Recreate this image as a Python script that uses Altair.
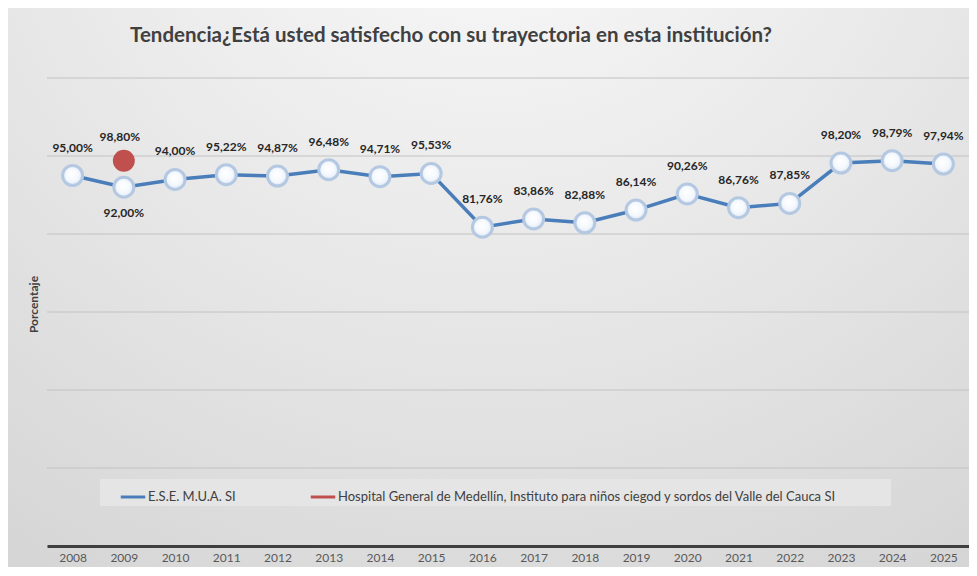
import altair as alt
import pandas as pd

years = [str(y) for y in range(2008, 2026)]
ese_values = [95.00, 92.00, 94.00, 95.22, 94.87, 96.48, 94.71, 95.53, 81.76,
              83.86, 82.88, 86.14, 90.26, 86.76, 87.85, 98.20, 98.79, 97.94]
hosp_years = ["2009"]
hosp_values = [98.80]
series_names = ["E.S.E. M.U.A. SI",
                "Hospital General de Medellín, Instituto para niños ciegod y sordos del Valle del Cauca SI"]
title_text = "Tendencia¿Está usted satisfecho con su trayectoria en esta institución?"
y_title = "Porcentaje"
y_grid = [20, 40, 60, 80, 100, 120]
below_years = ["2009"]


def fmt(v):
    return f"{v:.2f}%".replace(".", ",")


ese = pd.DataFrame({"year": years, "value": ese_values, "series": series_names[0],
                    "label": [fmt(v) for v in ese_values]})
hosp = pd.DataFrame({"year": hosp_years, "value": hosp_values, "series": series_names[1],
                     "label": [fmt(v) for v in hosp_values]})
grid_df = pd.DataFrame({"value": y_grid})
one = pd.DataFrame({"d": [0]})
title_df = pd.DataFrame({"t": [title_text]})

W, H = 922, 468
PL, PT, PR, PB = 39, 70, 0, 21
FONT = "Lato"

x_enc = alt.X("year:O", sort=years, scale=alt.Scale(domain=years),
              axis=alt.Axis(title=None, labelAngle=0, ticks=False, labelPadding=6,
                            labelFontSize=12, labelColor="#595959", labelFont=FONT,
                            domainColor="#3f3f3f", domainWidth=3, grid=False, zindex=2))
y_scale = alt.Scale(domain=[0, 120])
y_axis = alt.Axis(labels=False, ticks=False, domain=False, grid=False,
                  title=y_title, titleFontSize=12, titleColor="#404040",
                  titleFont=FONT, titleFontWeight="bold", titlePadding=7, titleY=226, zindex=2)
y_enc = alt.Y("value:Q", scale=y_scale, axis=y_axis)
color_enc = alt.Color("series:N", scale=alt.Scale(domain=series_names, range=["#4a7ebb", "#c0504d"]),
                      legend=alt.Legend(title=None, orient="none", legendX=72, legendY=405,
                                        direction="horizontal", symbolType="stroke",
                                        symbolStrokeWidth=3, symbolSize=600, labelFontSize=13,
                                        labelColor="#404040", labelFont=FONT, columnPadding=68,
                                        labelLimit=700, labelOffset=1))

bg = alt.Chart(one).mark_rect(
    fill=alt.RadialGradient(gradient="radial", x1=0.5, y1=0.0, x2=0.5, y2=0.0, r1=0, r2=1.0,
                            stops=[alt.GradientStop(offset=0, color="#fcfcfc"),
                                   alt.GradientStop(offset=0.55, color="#e6e6e6"),
                                   alt.GradientStop(offset=1, color="#d2d2d2")])
).encode(x=alt.value(-PL), x2=alt.value(W + PR), y=alt.value(-PT), y2=alt.value(H + PB))

title = alt.Chart(title_df).mark_text(
    font=FONT, fontSize=20.5, fontWeight="bold", color="#404040", baseline="middle", align="center"
).encode(x=alt.value(404), y=alt.value(-42), text="t:N")

grid = alt.Chart(grid_df).mark_rule(color="#c2c2c2", strokeWidth=1).encode(y=y_enc)

legend_box = alt.Chart(one).mark_rect(fill="#e6e6e6", opacity=0.85).encode(
    x=alt.value(53), x2=alt.value(844), y=alt.value(401), y2=alt.value(428))

line = alt.Chart(ese).mark_line(strokeWidth=3.5).encode(x=x_enc, y=y_enc, color=color_enc)

pts = alt.Chart(ese).mark_point(
    filled=True, size=400, opacity=1, strokeWidth=3, stroke="#b4c8e2",
    fill=alt.RadialGradient(gradient="radial", x1=0.45, y1=0.4, x2=0.5, y2=0.5, r1=0, r2=0.55,
                            stops=[alt.GradientStop(offset=0, color="#ffffff"),
                                   alt.GradientStop(offset=0.6, color="#f4f8fd"),
                                   alt.GradientStop(offset=1, color="#d2e0f1")])
).encode(x=x_enc, y=y_enc)

hosp_pt = alt.Chart(hosp).mark_line(
    strokeWidth=3, point=alt.OverlayMarkDef(filled=True, size=480, opacity=1)
).encode(x=x_enc, y=y_enc, color=color_enc)

lab_style = dict(font=FONT, fontSize=12, fontWeight="bold", color="#262626", baseline="middle")
lab_above = alt.Chart(ese).transform_filter(
    ~alt.FieldOneOfPredicate(field="year", oneOf=below_years)
).mark_text(dy=-28, **lab_style).encode(x=x_enc, y=y_enc, text="label:N")
lab_below = alt.Chart(ese).transform_filter(
    alt.FieldOneOfPredicate(field="year", oneOf=below_years)
).mark_text(dy=26, **lab_style).encode(x=x_enc, y=y_enc, text="label:N")
lab_hosp = alt.Chart(hosp).mark_text(dy=-24, dx=-4, **lab_style).encode(x=x_enc, y=y_enc, text="label:N")

chart = alt.layer(bg, title, grid, legend_box, line, pts, hosp_pt, lab_above, lab_below, lab_hosp).properties(
    width=W, height=H,
    autosize=alt.AutoSizeParams(type="none"),
    padding={"left": PL, "top": PT, "right": PR, "bottom": PB},
).configure(background="#dadada").configure_view(stroke=None)

chart.save("out.html", embed_options={"renderer": "svg", "actions": False})
